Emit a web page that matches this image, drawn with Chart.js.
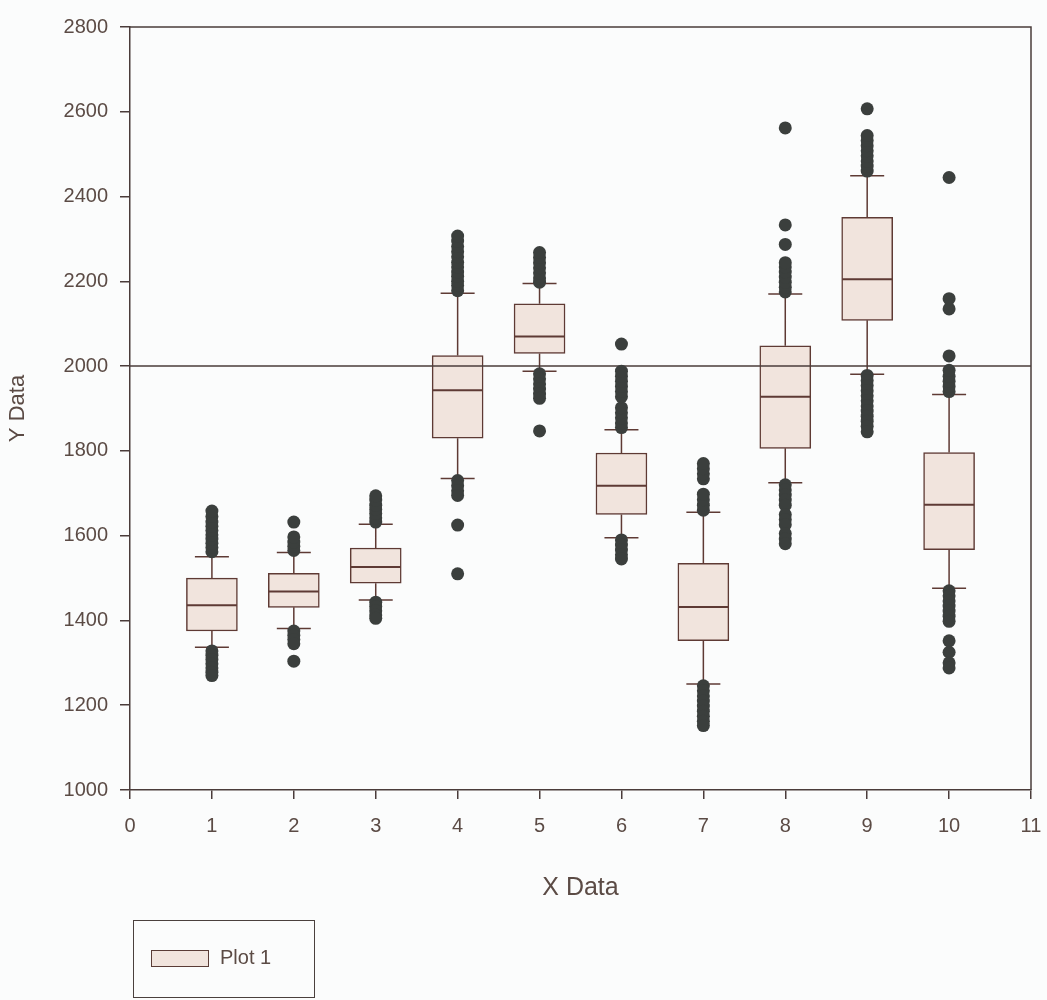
<!DOCTYPE html>
<html>
<head>
<meta charset="utf-8">
<script src="https://cdn.jsdelivr.net/npm/chart.js@4.4.1/dist/chart.umd.min.js"></script>
<style>
  html, body { margin: 0; padding: 0; background: #fbfcfc; overflow: hidden; }
  #wrap { position: relative; width: 1047px; height: 1000px; overflow: hidden; }
  canvas { display: block; }
  #legend {
    position: absolute; left: 133px; top: 920px; width: 182px; height: 78px;
    border: 1.5px solid #4a403d; box-sizing: border-box;
    font-family: "Liberation Sans Narrow", "Liberation Sans", Arial, sans-serif;
    font-size: 20px; color: #5b4b45;
  }
  #legend .sw {
    position: absolute; left: 17px; top: 29px; width: 58px; height: 17px;
    background: #f1e4dd; border: 1.5px solid #5a3c36; box-sizing: border-box;
  }
  #legend .lb { position: absolute; left: 86px; top: 25px; }
</style>
</head>
<body>
<div id="wrap">
  <canvas id="c" width="1058" height="1000"></canvas>
  <div id="legend"><span class="sw"></span><span class="lb">Plot 1</span></div>
</div>
<script>
// ---- data ----
const categories  = [1, 2, 3, 4, 5, 6, 7, 8, 9, 10];
const lowWhisker  = [1337, 1381, 1448, 1735, 1988, 1595, 1250, 1725, 1981, 1476];
const q1          = [1375, 1431, 1488, 1830, 2030, 1650, 1352, 1806, 2108, 1567];
const median      = [1436, 1468, 1526, 1943, 2070, 1718, 1432, 1928, 2205, 1673];
const q3          = [1500, 1511, 1571, 2025, 2147, 1795, 1535, 2048, 2351, 1796];
const highWhisker = [1550, 1560, 1627, 2172, 2195, 1850, 1655, 2170, 2449, 1933];
const outliers = [
  [1562, 1572, 1582, 1592, 1602, 1612, 1622, 1632, 1645, 1658, 1328, 1318, 1308, 1298, 1288, 1278, 1270],
  [1565, 1575, 1585, 1597, 1632, 1375, 1365, 1355, 1345, 1304],
  [1632, 1642, 1652, 1662, 1672, 1684, 1694, 1443, 1433, 1423, 1413, 1405],
  [2178, 2190, 2200, 2212, 2222, 2234, 2245, 2258, 2270, 2282, 2295, 2307, 1730, 1718, 1706, 1695, 1625, 1510],
  [2198, 2208, 2220, 2232, 2244, 2256, 2268, 1982, 1970, 1958, 1946, 1934, 1924, 1847],
  [1855, 1866, 1878, 1890, 1902, 1928, 1940, 1952, 1964, 1976, 1988, 2052, 1590, 1578, 1566, 1555, 1545],
  [1660, 1672, 1685, 1698, 1734, 1746, 1758, 1770, 1246, 1234, 1222, 1210, 1198, 1186, 1174, 1162, 1152],
  [2175, 2186, 2198, 2210, 2222, 2234, 2244, 2287, 2333, 2562, 1720, 1708, 1696, 1684, 1672, 1650, 1638, 1626, 1605, 1592, 1581],
  [2460, 2472, 2484, 2496, 2508, 2520, 2532, 2544, 2607, 1978, 1966, 1954, 1942, 1930, 1918, 1906, 1894, 1882, 1870, 1858, 1845],
  [1940, 1952, 1964, 1976, 1990, 2024, 2135, 2159, 2445, 1470, 1458, 1446, 1434, 1422, 1410, 1398, 1352, 1325, 1300, 1288]
];
const referenceY = 2000;
const xRange = [0, 11];
const yRange = [1000, 2800];
const yStep = 200;

// ---- build datasets ----
const boxData = categories.map((c, i) => ({ x: c, y: [q1[i], q3[i]] }));
const medianData = categories.map((c, i) => ({ x: c, y: median[i] }));
const capData = [];
const whiskerData = [];
categories.forEach((c, i) => {
  capData.push({ x: c, y: lowWhisker[i] }, { x: c, y: highWhisker[i] });
  whiskerData.push({ x: c, y: lowWhisker[i] }, { x: c, y: q1[i] }, { x: c, y: null });
  whiskerData.push({ x: c, y: q3[i] }, { x: c, y: highWhisker[i] }, { x: c, y: null });
});
const outlierData = [];
categories.forEach((c, i) => outliers[i].forEach(v => outlierData.push({ x: c, y: v })));
const refData = xRange.map(x => ({ x: x, y: referenceY }));

const FONT = '"Liberation Sans Narrow", "Liberation Sans", Arial, sans-serif';
const TEXT = '#5b4b45';
const AXIS = '#4a3c3a';
const BOXLINE = '#5e3a34';

const framePlugin = {
  id: 'frame',
  afterDatasetsDraw(chart) {
    const { ctx, chartArea: a } = chart;
    ctx.save();
    ctx.strokeStyle = AXIS;
    ctx.lineWidth = 1.5;
    ctx.beginPath();
    ctx.moveTo(a.left, a.top);
    ctx.lineTo(a.right, a.top);
    ctx.lineTo(a.right, a.bottom);
    ctx.stroke();
    ctx.restore();
  }
};

new Chart(document.getElementById('c'), {
  type: 'scatter',
  data: {
    datasets: [
      { type: 'scatter', label: 'outliers', data: outlierData, order: 0,
        pointRadius: 6.5, pointHoverRadius: 6.5, backgroundColor: '#3b3f3d', borderWidth: 0 },
      { type: 'scatter', label: 'caps', data: capData, order: 1,
        pointStyle: 'line', pointRadius: 17, pointHoverRadius: 17, borderColor: BOXLINE, pointBorderWidth: 1.5, borderWidth: 1.5 },
      { type: 'line', label: 'ref', data: refData, order: 2,
        borderColor: AXIS, borderWidth: 1.5, pointRadius: 0, fill: false },
      { type: 'scatter', label: 'median', data: medianData, order: 3,
        pointStyle: 'line', pointRadius: 25, pointHoverRadius: 25, borderColor: BOXLINE, pointBorderWidth: 2, borderWidth: 2 },
      { type: 'line', label: 'whiskers', data: whiskerData, order: 4, spanGaps: false,
        borderColor: BOXLINE, borderWidth: 1.5, pointRadius: 0, fill: false },
      { type: 'bar', label: 'Plot 1', data: boxData, order: 5, grouped: false,
        barThickness: 51, backgroundColor: '#f1e4dd', borderColor: BOXLINE, borderWidth: 1.5, borderSkipped: false }
    ]
  },
  options: {
    responsive: false,
    animation: false,
    devicePixelRatio: 1,
    layout: { padding: { top: 24, right: 0, left: 0, bottom: 0 } },
    plugins: { legend: { display: false }, tooltip: { enabled: false } },
    scales: {
      x: {
        type: 'linear', min: xRange[0], max: xRange[1], offset: false,
        afterFit: s => { s.height = 210; },
        ticks: { stepSize: 1, color: TEXT, font: { family: FONT, size: 20, lineHeight: 2.1 }, padding: 6, callback: v => String(v) },
        grid: { drawOnChartArea: false, offset: false, tickLength: 9, color: AXIS, lineWidth: 1.5 },
        border: { color: AXIS, width: 1.5 },
        title: { display: true, text: 'X Data', color: TEXT, font: { family: FONT, size: 25 }, padding: { top: 0, bottom: 97 } }
      },
      y: {
        type: 'linear', min: yRange[0], max: yRange[1],
        afterFit: s => { s.width = 130; },
        ticks: { stepSize: yStep, color: TEXT, font: { family: FONT, size: 20 }, padding: 12, callback: v => String(v) },
        grid: { drawOnChartArea: false, tickLength: 10, color: AXIS, lineWidth: 1.5 },
        border: { color: AXIS, width: 1.5 },
        title: { display: true, text: 'Y Data', color: TEXT, font: { family: FONT, size: 22 }, padding: { top: 5, bottom: 0 } }
      }
    }
  },
  plugins: [framePlugin]
});
</script>
</body>
</html>
